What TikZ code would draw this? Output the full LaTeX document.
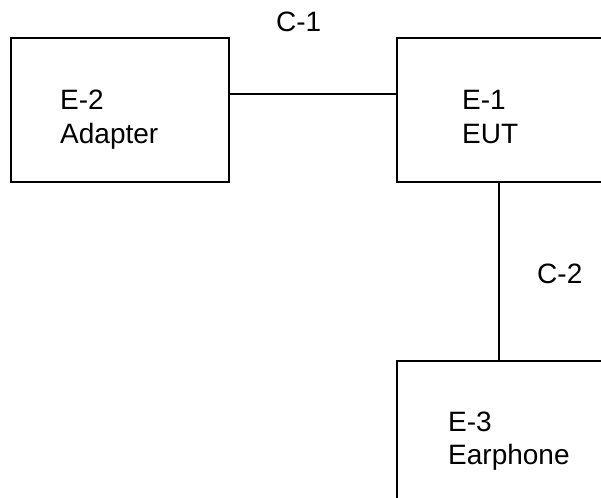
\documentclass[tikz,border=0pt]{standalone}
\usepackage{fontspec}
\setmainfont{Liberation Sans}
\usetikzlibrary{positioning}
\tikzset{
  unitbox/.style={draw, line width=2pt, minimum width=218pt, minimum height=144pt, inner sep=0pt},
  tag/.style={font=\fontsize{28}{33}\selectfont, align=left, inner sep=0pt, anchor=base west},
  cable/.style={line width=2pt}
}
\begin{document}
\begin{tikzpicture}[x=1pt,y=1pt]
  \useasboundingbox (0,0) rectangle (601,-497);
  \clip (0,0) rectangle (601,-497);
  \node[unitbox, anchor=north west] (adapter) at (10,-37) {};
  \node[unitbox, right=166pt of adapter] (eut) {};
  \node[unitbox, below=177pt of eut] (phone) {};
  % base of a two-line tag is the baseline of its last line
  \node[tag] (adaptertag) at ([shift={(50,-106)}]adapter.north west) {E-2\\Adapter};
  \node[tag] (euttag) at ([shift={(66,-106)}]eut.north west) {E-1\\EUT};
  \node[tag] (phonetag) at ([shift={(52,-104)}]phone.north west) {E-3\\Earphone};
  \draw[cable] ([yshift=16pt]adapter.east) -- ([yshift=16pt]adapter.east -| eut.west);
  \draw[cable] ([xshift=-7pt]eut.south) -- ([xshift=-7pt]eut.south |- phone.north);
  \node[tag] (c1tag) at (276,-32) {C-1};
  \node[tag] (c2tag) at (537,-283) {C-2};
\end{tikzpicture}
\end{document}
